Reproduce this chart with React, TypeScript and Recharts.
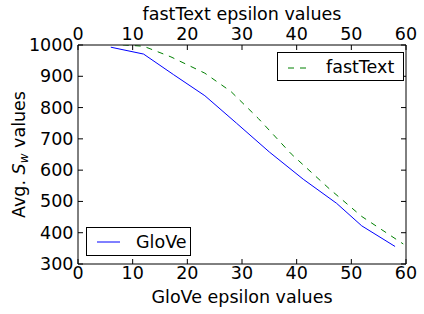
import { LineChart, Line, XAxis, YAxis } from "recharts";

const W = 424;
const H = 314;
const FONT = "'DejaVu Sans', sans-serif";
const FS = 17.5;
// plot box in page pixels
const PLOT = { left: 78, right: 406, top: 45, bottom: 264 };

const epsTicks = [0, 10, 20, 30, 40, 50, 60];
const swTicks = [300, 400, 500, 600, 700, 800, 900, 1000];

const gloveEps = [6, 12, 17.5, 23.2, 29, 35, 41.2, 47.3, 51.9, 58];
const gloveAvgSw = [993, 971, 905, 838, 750, 658, 571, 494, 422, 356];

const fastTextEps = [6, 12, 17, 23.2, 28, 33, 39, 46, 51.9, 59.5];
const fastTextAvgSw = [1003, 996, 962, 910, 851, 765, 652, 540, 452, 364];

const gloveData = gloveEps.map((eps, i) => ({ eps, sw: gloveAvgSw[i] }));
const fastTextData = fastTextEps.map((eps, i) => ({ eps, sw: fastTextAvgSw[i] }));

const TICK_LEN = 5;

function BottomTick({ x, y, payload }: any) {
  return (
    <g>
      <line x1={x} y1={y} x2={x} y2={y - TICK_LEN} stroke="#000" />
      <text x={x} y={y + 15} textAnchor="middle" fontSize={FS} fontFamily={FONT} fill="#000">
        {payload.value}
      </text>
    </g>
  );
}

function TopTick({ x, y, payload }: any) {
  return (
    <g>
      <line x1={x} y1={y} x2={x} y2={y + TICK_LEN} stroke="#000" />
      <text x={x} y={y - 5.5} textAnchor="middle" fontSize={FS} fontFamily={FONT} fill="#000">
        {payload.value}
      </text>
    </g>
  );
}

function LeftTick({ x, y, payload }: any) {
  return (
    <g>
      <line x1={x} y1={y} x2={x + TICK_LEN} y2={y} stroke="#000" />
      <text x={x - 4.5} y={y + 6} textAnchor="end" fontSize={FS} fontFamily={FONT} fill="#000">
        {payload.value}
      </text>
    </g>
  );
}

function RightTick({ x, y }: any) {
  return <line x1={x} y1={y} x2={x - TICK_LEN} y2={y} stroke="#000" />;
}

function Overlay() {
  const cx = (PLOT.left + PLOT.right) / 2;
  const cy = (PLOT.top + PLOT.bottom) / 2;
  return (
    <svg
      width={W}
      height={H}
      style={{ position: "absolute", left: 0, top: 0, pointerEvents: "none" }}
      fontFamily={FONT}
      fontSize={FS}
    >
      <text x={cx} y={20} textAnchor="middle">fastText epsilon values</text>
      <text x={cx} y={303} textAnchor="middle">GloVe epsilon values</text>
      <text transform="rotate(-90)" x={-cy} y={25} textAnchor="middle">
        Avg. <tspan fontStyle="italic">S</tspan>
        <tspan fontStyle="italic" fontSize={12} dy={3}>w</tspan>
        <tspan dy={-3}> values</tspan>
      </text>

      {/* legend: fastText, upper right */}
      <rect x={277.5} y={52.5} width={126} height={28} fill="#fff" stroke="#000" />
      <line x1={288} y1={68} x2={308} y2={68} stroke="#008000" strokeDasharray="6 6" />
      <text x={326} y={72.5}>fastText</text>

      {/* legend: GloVe, lower left */}
      <rect x={86.5} y={227.5} width={104} height={28} fill="#fff" stroke="#000" />
      <line x1={97} y1={242} x2={120} y2={242} stroke="#0000ff" />
      <text x={136} y={247.5}>GloVe</text>
    </svg>
  );
}

export default function App() {
  return (
    <div style={{ position: "absolute", left: 0, top: 0, width: W, height: H, background: "#fff" }}>
      <LineChart width={W} height={H} margin={{ top: 0, right: 0, bottom: 0, left: 0 }}>
        <XAxis
          xAxisId="glove"
          dataKey="eps"
          type="number"
          domain={[0, 60]}
          ticks={epsTicks}
          interval={0}
          allowDataOverflow
          orientation="bottom"
          height={H - PLOT.bottom}
          tickSize={0}
          tickMargin={0}
          tickLine={false}
          axisLine={{ stroke: "#000" }}
          tick={<BottomTick />}
        />
        <XAxis
          xAxisId="fastText"
          dataKey="eps"
          type="number"
          domain={[0, 60]}
          ticks={epsTicks}
          interval={0}
          allowDataOverflow
          orientation="top"
          height={PLOT.top}
          tickSize={0}
          tickMargin={0}
          tickLine={false}
          axisLine={{ stroke: "#000" }}
          tick={<TopTick />}
        />
        <YAxis
          yAxisId="left"
          type="number"
          domain={[300, 1000]}
          ticks={swTicks}
          interval={0}
          allowDataOverflow
          width={PLOT.left}
          tickSize={0}
          tickMargin={0}
          tickLine={false}
          axisLine={{ stroke: "#000" }}
          tick={<LeftTick />}
        />
        <YAxis
          yAxisId="right"
          orientation="right"
          type="number"
          domain={[300, 1000]}
          ticks={swTicks}
          interval={0}
          allowDataOverflow
          width={W - PLOT.right}
          tickSize={0}
          tickMargin={0}
          tickLine={false}
          axisLine={{ stroke: "#000" }}
          tick={<RightTick />}
        />
        <Line
          data={gloveData}
          dataKey="sw"
          xAxisId="glove"
          yAxisId="left"
          stroke="#0000ff"
          strokeWidth={1}
          dot={false}
          isAnimationActive={false}
        />
        <Line
          data={fastTextData}
          dataKey="sw"
          xAxisId="fastText"
          yAxisId="left"
          stroke="#008000"
          strokeWidth={1}
          strokeDasharray="6 6"
          dot={false}
          isAnimationActive={false}
        />
      </LineChart>
      <Overlay />
    </div>
  );
}
